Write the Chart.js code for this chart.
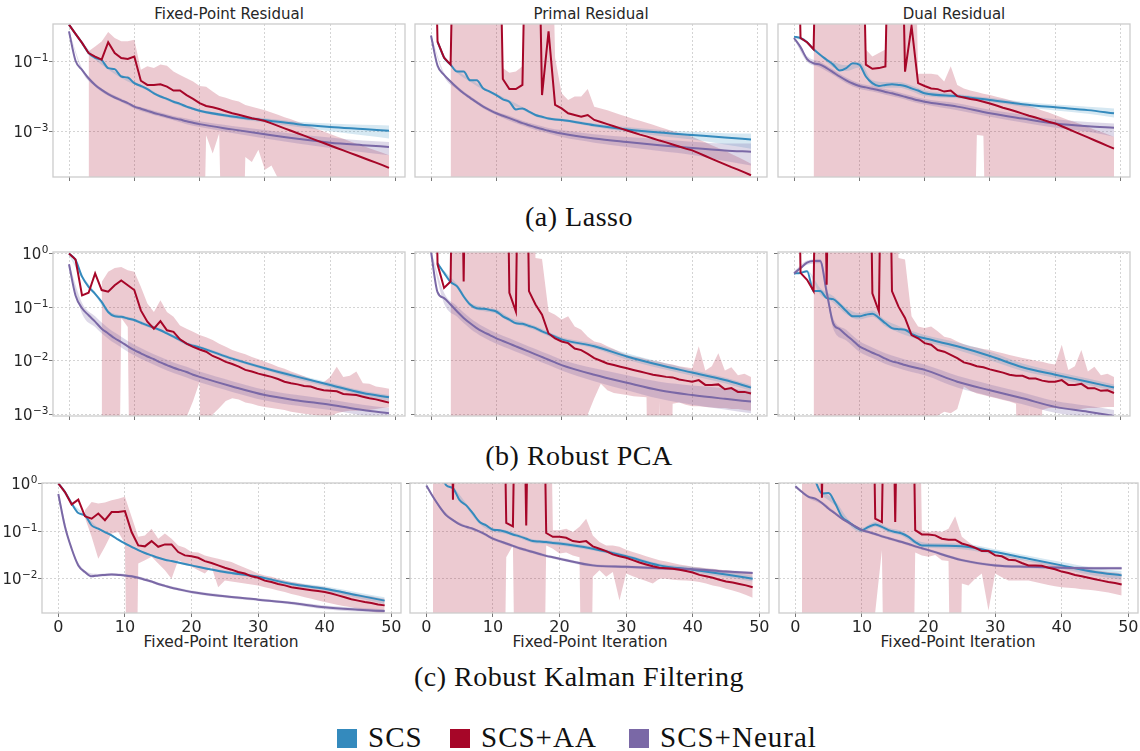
<!DOCTYPE html>
<html>
<head>
<meta charset="utf-8">
<script src="https://cdn.jsdelivr.net/npm/chart.js@4.4.1/dist/chart.umd.min.js"></script>
<style>
  html, body { margin: 0; padding: 0; background: #fff; overflow: hidden; }
  body { position: relative; width: 1140px; height: 751px; }
  .abs { position: absolute; white-space: nowrap; }
  .title { font: 15px 'DejaVu Sans', sans-serif; color: #262626; line-height: 18px; transform: translateX(-50%); }
  .xlabel { font: 15.5px 'DejaVu Sans', sans-serif; color: #262626; line-height: 18px; transform: translateX(-50%); }
  .caption { font: 28px 'Liberation Serif', serif; letter-spacing: 0.5px; line-height: 28px; color: #111; transform: translateX(-50%); }
  .legend { font: 29px 'Liberation Serif', serif; letter-spacing: 1px; line-height: 28px; color: #111; }
  .swatch { width: 20px; height: 19px; }
</style>
</head>
<body>
<div class="abs title" style="left:229px; top:5px">Fixed-Point Residual</div>
<div class="abs title" style="left:591px; top:5px">Primal Residual</div>
<div class="abs title" style="left:954px; top:5px">Dual Residual</div>

<div class="abs xlabel" style="left:221px; top:633px">Fixed-Point Iteration</div>
<div class="abs xlabel" style="left:590px; top:633px">Fixed-Point Iteration</div>
<div class="abs xlabel" style="left:958px; top:633px">Fixed-Point Iteration</div>

<div class="abs caption" style="left:579px; top:203px">(a) Lasso</div>
<div class="abs caption" style="left:579px; top:442px">(b) Robust PCA</div>
<div class="abs caption" style="left:579px; top:663px">(c) Robust Kalman Filtering</div>

<div class="abs swatch" style="left:337px; top:729px; background:#348ABD"></div>
<div class="abs legend" style="left:368px; top:723px">SCS</div>
<div class="abs swatch" style="left:450px; top:729px; background:#A60628"></div>
<div class="abs legend" style="left:481px; top:723px">SCS+AA</div>
<div class="abs swatch" style="left:629px; top:729px; background:#7A68A6"></div>
<div class="abs legend" style="left:660px; top:723px">SCS+Neural</div>

<script>
// all values are log10 of the residual
// UP = above the top of the axis (run blew up), DN = below the bottom (mean - std <= 0)
const UP = 8
const DN = -12

const ITERS = [0, 1, 2, 3, 4, 5, 6, 7, 8, 9, 10, 11, 12, 13, 14, 15, 16, 17, 18, 19,
  20, 21, 22, 23, 24, 25, 26, 27, 28, 29, 30, 31, 32, 33, 34, 35, 36, 37, 38, 39,
  40, 41, 42, 43, 44, 45, 46, 47, 48, 49]
const GRID = [0, 1, 2, 3, 4, 5, 6, 7, 8, 9, 10, 11, 12, 13, 14, 15, 16, 17, 18, 19, 20, 25, 30, 35, 40, 45, 49]
const BAND_GRID = [0, 2, 4, 6, 8, 10, 12, 14, 16, 18, 20, 25, 30, 35, 40, 45, 49]
const X_TICKS = [0, 10, 20, 30, 40, 50]

// ---- (a) Lasso, fixed-point residual
const lassoFixedAA = [0.04, -0.22, -0.48, -0.77, -0.87, -0.96, -0.46, -0.77, -0.91, -0.94,
  -0.87, -1.56, -1.68, -1.68, -1.66, -1.73, -1.84, -1.84, -1.97, -2.08,
  -2.2, -2.28, -2.32, -2.37, -2.43, -2.49, -2.53, -2.58, -2.63, -2.67,
  -2.71, -2.78, -2.85, -2.92, -2.99, -3.06, -3.13, -3.2, -3.27, -3.34,
  -3.41, -3.48, -3.55, -3.62, -3.69, -3.76, -3.83, -3.9, -3.97, -4.05]
const lassoFixedAAhi = [null, null, null, -0.72, -0.58, -0.44, -0.17, -0.34, -0.43, -0.43,
  -0.39, -1.25, -1.15, -1.2, -1.1, -1.13, -1.3, -1.4, -1.49, -1.58,
  -1.71, -1.73, -1.87, -2.0, -2.05, -2.11, -2.15, -2.25, -2.3, -2.35,
  -2.4, -2.47, -2.53, -2.6, -2.66, -2.73, -2.8, -2.87, -2.94, -3.01,
  -3.08, -3.15, -3.22, -3.29, -3.36, -3.42, -3.49, -3.55, -3.62, -3.69]
const lassoFixedAAlo = [null, null, null, DN, DN, DN, DN, DN, DN, DN,
  DN, DN, DN, DN, DN, DN, DN, DN, DN, DN,
  DN, -3.12, -3.64, -3.06, DN, DN, DN, -3.74, -3.88, -3.53,
  -4.1, -3.98, -4.35, DN, DN, DN, DN, DN, DN, DN,
  DN, DN, DN, DN, DN, DN, DN, DN, DN, DN]
const lassoFixedSCS = [0.04, -0.22, -0.48, -0.77, -0.91, -0.97, -1.2, -1.23, -1.44, -1.47, -1.63, -1.71, -1.8, -1.92,
  -2.01, -2.08, -2.16, -2.22, -2.3, -2.36, -2.42, -2.58, -2.69, -2.8, -2.88, -2.94, -2.99]
const lassoFixedSCSlo = [0.0, -0.52, -0.95, -1.24, -1.48, -1.67, -1.84, -2.05, -2.2, -2.34, -2.46, -2.63, -2.75, -2.88, -3.0, -3.12, -3.21]
const lassoFixedSCShi = [0.08, -0.44, -0.87, -1.16, -1.4, -1.59, -1.76, -1.97, -2.12, -2.26, -2.38, -2.53, -2.63, -2.73, -2.78, -2.82, -2.84]
const lassoFixedNeural = [-0.15, -0.99, -1.25, -1.49, -1.68, -1.82, -1.94, -2.04, -2.12, -2.2, -2.3, -2.36, -2.42, -2.48,
  -2.53, -2.58, -2.63, -2.67, -2.72, -2.76, -2.8, -2.95, -3.09, -3.22, -3.33, -3.4, -3.45]
const lassoFixedNeuralLo = [-0.17, -1.3, -1.73, -1.99, -2.17, -2.35, -2.48, -2.59, -2.69, -2.8, -2.88, -3.05, -3.21, -3.35, -3.48, -3.6, -3.69]
const lassoFixedNeuralHi = [-0.13, -1.2, -1.63, -1.89, -2.07, -2.25, -2.36, -2.47, -2.57, -2.64, -2.72, -2.85, -2.97, -3.09, -3.18, -3.27, -3.31]

// ---- (a) Lasso, primal residual
const lassoPrimalAA = [UP, -0.44, -0.9, -1.1, UP, UP, UP, UP, UP, UP,
  UP, -1.51, -1.8, -1.8, -1.68, UP, UP, -1.97, -0.15, -2.25,
  -2.35, -2.49, -2.54, -2.59, -2.54, -2.68, -2.74, -2.8, -2.86, -2.92,
  -2.98, -3.04, -3.1, -3.15, -3.21, -3.27, -3.32, -3.38, -3.44, -3.5,
  -3.55, -3.63, -3.71, -3.79, -3.87, -3.95, -4.03, -4.1, -4.18, -4.26]
const lassoPrimalAAhi = [null, null, null, UP, UP, UP, UP, UP, UP, UP,
  UP, -1.2, -1.33, -1.3, -1.15, UP, UP, UP, UP, -0.9,
  -1.92, -2.11, -2.01, -2.01, -1.8, -2.3, -2.35, -2.4, -2.47, -2.53,
  -2.59, -2.65, -2.7, -2.76, -2.82, -2.88, -2.94, -3.0, -3.05, -3.1,
  -3.16, -3.24, -3.32, -3.4, -3.48, -3.55, -3.65, -3.74, -3.83, -3.93]
const lassoPrimalAAlo = [null, null, null, DN, DN, DN, DN, DN, DN, DN,
  DN, DN, DN, DN, DN, DN, DN, DN, DN, DN,
  DN, DN, DN, DN, DN, DN, DN, DN, DN, DN,
  DN, DN, DN, DN, DN, DN, DN, DN, DN, DN,
  DN, DN, DN, DN, DN, DN, DN, DN, DN, DN]
const lassoPrimalSCS = [null, -0.44, -0.9, -1.1, -1.3, -1.3, -1.55, -1.55, -1.78, -1.87, -1.97, -2.09, -2.16, -2.38,
  -2.35, -2.44, -2.54, -2.59, -2.64, -2.67, -2.68, -2.83, -2.95, -3.04, -3.11, -3.18, -3.24]
const lassoPrimalSCSlo = [null, -0.94, -1.34, -1.59, -1.82, -2.01, -2.2, -2.39, -2.58, -2.68, -2.72, -2.88, -3.02, -3.14, -3.24, -3.38, -3.5]
const lassoPrimalSCShi = [null, -0.86, -1.26, -1.51, -1.74, -1.93, -2.12, -2.31, -2.5, -2.6, -2.64, -2.78, -2.88, -2.96, -3.02, -3.06, -3.07]
const lassoPrimalNeural = [-0.27, -1.13, -1.39, -1.58, -1.76, -1.92, -2.05, -2.18, -2.3, -2.4, -2.49, -2.56, -2.63, -2.7,
  -2.77, -2.83, -2.89, -2.94, -2.99, -3.03, -3.07, -3.21, -3.31, -3.4, -3.48, -3.55, -3.59]
const lassoPrimalNeuralLo = [-0.29, -1.44, -1.81, -2.1, -2.35, -2.54, -2.7, -2.84, -2.97, -3.07, -3.17, -3.33, -3.45, -3.57, -3.68, -3.85, -3.98]
const lassoPrimalNeuralHi = [-0.25, -1.34, -1.71, -2.0, -2.25, -2.44, -2.56, -2.7, -2.81, -2.91, -2.97, -3.09, -3.17, -3.23, -3.3, -3.35, -3.35]

// ---- (a) Lasso, dual residual
const lassoDualAA = [UP, -0.34, -0.46, -0.66, UP, UP, UP, UP, UP, UP,
  UP, -1.1, -1.22, -1.2, -1.15, UP, UP, -1.3, 0.0, -1.63,
  -1.71, -1.78, -1.8, -1.87, -1.84, -2.0, -2.04, -2.08, -2.11, -2.16,
  -2.21, -2.27, -2.33, -2.38, -2.44, -2.5, -2.56, -2.61, -2.67, -2.73,
  -2.78, -2.86, -2.94, -3.02, -3.1, -3.18, -3.26, -3.34, -3.42, -3.5]
const lassoDualAAhi = [null, null, null, UP, UP, UP, UP, UP, UP, UP,
  UP, -0.67, -0.87, -0.77, -0.67, UP, UP, UP, UP, -1.36,
  -1.36, -1.36, -1.39, -1.58, -1.15, -1.68, -1.78, -1.84, -1.88, -1.93,
  -1.97, -2.02, -2.06, -2.11, -2.16, -2.21, -2.28, -2.34, -2.41, -2.47,
  -2.54, -2.61, -2.68, -2.74, -2.81, -2.88, -2.95, -3.02, -3.09, -3.16]
const lassoDualAAlo = [null, null, null, DN, DN, DN, DN, DN, DN, DN,
  DN, DN, DN, DN, DN, DN, DN, DN, DN, DN,
  DN, DN, DN, DN, DN, DN, DN, DN, -3.11, -3.13,
  DN, DN, DN, DN, DN, DN, DN, DN, DN, DN,
  DN, DN, DN, DN, DN, DN, DN, DN, DN, DN]
const lassoDualSCS = [-0.3, -0.34, -0.46, -0.66, -0.82, -0.96, -1.1, -1.27, -1.2, -1.06, -1.1, -1.44, -1.63, -1.71,
  -1.68, -1.66, -1.68, -1.71, -1.78, -1.84, -1.92, -2.0, -2.11, -2.23, -2.32, -2.4, -2.49]
const lassoDualSCSlo = [-0.33, -0.49, -0.85, -1.18, -1.28, -1.18, -1.71, -1.76, -1.76, -1.86, -2.0, -2.06, -2.17, -2.3, -2.41, -2.5, -2.61]
const lassoDualSCShi = [-0.27, -0.43, -0.79, -1.02, -1.12, -1.02, -1.55, -1.6, -1.6, -1.7, -1.84, -1.94, -2.05, -2.16, -2.24, -2.3, -2.35]
const lassoDualNeural = [-0.34, -0.6, -0.94, -1.06, -1.1, -1.2, -1.32, -1.44, -1.55, -1.64, -1.71, -1.75, -1.79, -1.83,
  -1.88, -1.92, -1.97, -2.02, -2.07, -2.12, -2.16, -2.3, -2.49, -2.64, -2.78, -2.86, -2.9]
const lassoDualNeuralLo = [-0.36, -1.02, -1.18, -1.4, -1.63, -1.79, -1.87, -1.96, -2.05, -2.15, -2.24, -2.4, -2.59, -2.75, -2.9, -3.02, -3.16]
const lassoDualNeuralHi = [-0.32, -0.86, -1.02, -1.24, -1.47, -1.63, -1.71, -1.8, -1.89, -1.99, -2.08, -2.2, -2.39, -2.53, -2.66, -2.74, -2.78]

// ---- (b) Robust PCA, fixed-point residual
const rpcaFixedAA = [0, -0.11, -0.78, -0.73, -0.37, -0.68, -0.71, -0.59, -0.5, -0.59,
  -0.68, -1.06, -1.27, -1.4, -1.26, -1.43, -1.46, -1.6, -1.68, -1.74,
  -1.79, -1.83, -1.91, -1.96, -2.02, -2.06, -2.11, -2.17, -2.2, -2.24,
  -2.27, -2.3, -2.34, -2.39, -2.42, -2.44, -2.47, -2.48, -2.52, -2.55,
  -2.56, -2.57, -2.62, -2.63, -2.64, -2.67, -2.7, -2.72, -2.75, -2.78]
const rpcaFixedAAhi = [null, null, null, null, null, -0.53, -0.34, -0.27, -0.25, -0.31,
  -0.34, -0.62, -0.93, -1.09, -0.87, -1.09, -1.18, -1.34, -1.4, -1.46,
  -1.52, -1.56, -1.61, -1.68, -1.74, -1.8, -1.84, -1.88, -1.93, -1.97,
  -2.02, -2.06, -2.11, -2.15, -2.2, -2.24, -2.29, -2.34, -2.39, -2.4,
  -2.3, -2.11, -2.3, -2.28, -2.2, -2.42, -2.43, -2.48, -2.5, -2.52]
const rpcaFixedAAlo = [null, null, null, null, null, DN, DN, DN, -1.2, -1.37,
  DN, DN, DN, DN, DN, DN, DN, DN, -3.05, -2.75,
  -2.39, DN, -3.0, -2.88, -2.75, -2.7, -2.72, -2.78, -2.8, -2.84,
  -2.86, -2.88, -2.9, -2.92, -2.95, -2.97, -2.99, -3.0, -3.02, -3.03,
  -3.04, -2.98, -2.95, -2.93, -2.93, -2.92, -2.92, -2.9, -2.88, -2.87]
const rpcaFixedSCS = [0, -0.12, -0.43, -0.62, -0.75, -0.9, -1.09, -1.17, -1.18, -1.21, -1.24, -1.29, -1.34, -1.38,
  -1.43, -1.49, -1.55, -1.61, -1.68, -1.72, -1.75, -1.96, -2.14, -2.3, -2.45, -2.6, -2.68]
const rpcaFixedSCSlo = [-0.03, -0.46, -0.78, -1.12, -1.21, -1.27, -1.37, -1.46, -1.58, -1.71, -1.78, -1.99, -2.17, -2.35, -2.5, -2.65, -2.75]
const rpcaFixedSCShi = [0.03, -0.4, -0.72, -1.06, -1.15, -1.21, -1.31, -1.4, -1.52, -1.65, -1.72, -1.93, -2.11, -2.26, -2.41, -2.56, -2.64]
const rpcaFixedNeural = [-0.2, -0.78, -1.02, -1.15, -1.27, -1.4, -1.49, -1.58, -1.65, -1.73, -1.8, -1.86, -1.92, -1.97,
  -2.03, -2.08, -2.13, -2.17, -2.21, -2.26, -2.3, -2.48, -2.64, -2.74, -2.82, -2.92, -2.98]
const rpcaFixedNeuralLo = [-0.22, -1.12, -1.37, -1.59, -1.75, -1.9, -2.02, -2.13, -2.23, -2.31, -2.4, -2.58, -2.74, -2.84, -2.92, -3.02, -3.08]
const rpcaFixedNeuralHi = [-0.18, -0.92, -1.17, -1.39, -1.55, -1.7, -1.82, -1.93, -2.03, -2.11, -2.2, -2.38, -2.54, -2.64, -2.72, -2.82, -2.88]

// ---- (b) Robust PCA, primal residual
const rpcaPrimalAA = [UP, -0.2, -0.64, -0.52, UP, -0.52, UP, UP, UP, UP,
  UP, UP, -0.73, -1.08, UP, -0.7, -0.95, -1.14, -1.49, -1.58,
  -1.64, -1.67, -1.77, -1.8, -1.87, -1.95, -2.0, -2.05, -2.08, -2.11,
  -2.14, -2.17, -2.2, -2.23, -2.26, -2.28, -2.3, -2.31, -2.35, -2.37,
  -2.39, -2.36, -2.45, -2.45, -2.44, -2.53, -2.51, -2.58, -2.58, -2.61]
const rpcaPrimalAAhi = [null, null, null, UP, UP, UP, UP, UP, UP, UP,
  UP, UP, UP, UP, UP, UP, -0.08, -0.1, -1.08, -1.14,
  -1.23, -1.17, -1.36, -1.42, -1.55, -1.64, -1.67, -1.73, -1.78, -1.84,
  -1.89, -1.92, -1.94, -1.97, -2.0, -2.02, -2.05, -2.07, -2.1, -2.12,
  -2.14, -1.73, -2.18, -2.1, -1.86, -2.18, -2.12, -2.27, -2.24, -2.3]
const rpcaPrimalAAlo = [null, null, null, DN, DN, DN, DN, DN, DN, DN,
  DN, DN, DN, DN, DN, DN, DN, DN, DN, DN,
  DN, DN, DN, DN, -3.0, -2.7, -2.43, -2.55, -2.6, -2.62,
  -2.64, -2.66, -2.67, -2.68, DN, -2.75, DN, -2.8, -2.78, -2.82,
  -2.85, -2.85, -2.86, -2.87, -2.88, -2.88, -2.9, -2.9, -2.92, -2.93]
const rpcaPrimalSCS = [null, -0.18, -0.36, -0.53, -0.61, -0.8, -0.95, -1.02, -1.03, -1.05, -1.08, -1.17, -1.23, -1.3,
  -1.31, -1.35, -1.39, -1.45, -1.5, -1.55, -1.6, -1.73, -1.92, -2.08, -2.22, -2.36, -2.5]
const rpcaPrimalSCSlo = [null, -0.4, -0.65, -0.99, -1.07, -1.12, -1.27, -1.35, -1.43, -1.54, -1.64, -1.77, -1.98, -2.14, -2.28, -2.42, -2.56]
const rpcaPrimalSCShi = [null, -0.32, -0.57, -0.91, -0.99, -1.04, -1.19, -1.27, -1.35, -1.46, -1.56, -1.68, -1.86, -2.02, -2.17, -2.31, -2.45]
const rpcaPrimalNeural = [0.04, -0.72, -0.83, -0.95, -1.08, -1.2, -1.3, -1.39, -1.46, -1.52, -1.58, -1.63, -1.68, -1.73,
  -1.78, -1.83, -1.88, -1.93, -1.98, -2.03, -2.08, -2.26, -2.41, -2.55, -2.64, -2.71, -2.76]
const rpcaPrimalNeuralLo = [0.02, -0.93, -1.18, -1.4, -1.56, -1.68, -1.78, -1.88, -1.98, -2.08, -2.18, -2.38, -2.55, -2.71, -2.82, -2.91, -2.98]
const rpcaPrimalNeuralHi = [0.06, -0.73, -0.98, -1.2, -1.36, -1.48, -1.58, -1.68, -1.78, -1.88, -1.98, -2.14, -2.27, -2.39, -2.46, -2.51, -2.56]

// ---- (b) Robust PCA, dual residual
const rpcaDualAA = [UP, -0.36, -0.49, -0.7, UP, -0.58, UP, UP, UP, UP,
  UP, UP, -0.74, -1.08, UP, -0.7, -0.99, -1.2, -1.52, -1.58,
  -1.67, -1.7, -1.8, -1.83, -1.89, -1.95, -2.03, -2.06, -2.1, -2.12,
  -2.16, -2.19, -2.22, -2.26, -2.28, -2.28, -2.33, -2.33, -2.37, -2.39,
  -2.39, -2.36, -2.45, -2.45, -2.43, -2.51, -2.51, -2.56, -2.55, -2.6]
const rpcaDualAAhi = [null, null, null, UP, UP, UP, UP, UP, UP, UP,
  UP, UP, UP, UP, UP, UP, -0.08, -0.11, -1.17, -1.36,
  -1.39, -1.36, -1.45, -1.55, -1.58, -1.64, -1.69, -1.73, -1.75, -1.78,
  -1.8, -1.83, -1.86, -1.89, -1.92, -1.95, -1.97, -2.0, -2.02, -2.05,
  -2.07, -1.7, -2.17, -2.1, -1.8, -2.2, -2.11, -2.27, -2.24, -2.3]
const rpcaDualAAlo = [null, null, null, DN, DN, DN, DN, DN, DN, DN,
  DN, DN, DN, DN, DN, DN, DN, DN, DN, DN,
  DN, DN, -3.02, -2.95, -2.98, -2.9, -2.48, -2.56, -2.61, -2.64,
  -2.67, -2.7, -2.73, -2.76, -2.8, DN, -2.85, DN, -2.92, -2.88,
  -2.88, -2.9, -2.9, -2.9, -2.9, -2.88, -2.88, -2.87, -2.86, -2.86]
const rpcaDualSCS = [-0.37, -0.36, -0.33, -0.7, -0.7, -0.83, -0.85, -0.95, -1.07, -1.17, -1.17, -1.14, -1.12, -1.2,
  -1.3, -1.39, -1.41, -1.42, -1.5, -1.55, -1.58, -1.73, -1.91, -2.12, -2.26, -2.39, -2.5]
const rpcaDualSCSlo = [-0.39, -0.35, -0.76, -0.91, -1.13, -1.23, -1.18, -1.36, -1.47, -1.56, -1.64, -1.8, -1.99, -2.19, -2.32, -2.45, -2.56]
const rpcaDualSCShi = [-0.35, -0.31, -0.64, -0.79, -1.01, -1.11, -1.06, -1.24, -1.35, -1.44, -1.52, -1.66, -1.83, -2.05, -2.2, -2.33, -2.44]
const rpcaDualNeural = [-0.37, -0.27, -0.17, -0.14, -0.14, -0.72, -1.3, -1.41, -1.52, -1.62, -1.73, -1.79, -1.85, -1.9,
  -1.96, -2.01, -2.04, -2.08, -2.11, -2.14, -2.17, -2.39, -2.55, -2.7, -2.86, -2.95, -3.03]
const rpcaDualNeuralLo = [-0.41, -0.21, -0.18, -1.4, -1.62, -1.83, -1.95, -2.06, -2.14, -2.21, -2.27, -2.5, -2.66, -2.81, -2.97, -3.06, -3.16]
const rpcaDualNeuralHi = [-0.33, -0.13, -0.1, -1.2, -1.42, -1.63, -1.75, -1.86, -1.94, -2.01, -2.07, -2.28, -2.44, -2.59, -2.75, -2.84, -2.92]

// ---- (c) Robust Kalman filtering, fixed-point residual
const kalmanFixedAA = [0, -0.18, -0.44, -0.34, -0.69, -0.74, -0.63, -0.77, -0.6, -0.6,
  -0.58, -1.02, -1.3, -1.32, -1.21, -1.33, -1.28, -1.28, -1.44, -1.51,
  -1.53, -1.56, -1.63, -1.67, -1.72, -1.77, -1.81, -1.86, -1.89, -1.95,
  -1.98, -2.04, -2.07, -2.11, -2.14, -2.18, -2.2, -2.22, -2.24, -2.26,
  -2.28, -2.31, -2.35, -2.39, -2.43, -2.46, -2.49, -2.51, -2.54, -2.56]
const kalmanFixedAAhi = [null, null, null, null, -0.56, -0.39, -0.42, -0.4, -0.35, -0.32,
  -0.28, -0.7, -1.12, -1.09, -0.95, -1.16, -1.05, -1.16, -1.3, -1.35,
  -1.44, -1.45, -1.51, -1.55, -1.58, -1.62, -1.65, -1.71, -1.77, -1.83,
  -1.89, -1.93, -1.96, -2.0, -2.04, -2.07, -2.09, -2.12, -2.14, -2.16,
  -2.18, -2.21, -2.24, -2.27, -2.3, -2.32, -2.35, -2.37, -2.4, -2.42]
const kalmanFixedAAlo = [null, null, null, null, -0.72, -1.12, -1.58, -1.33, -1.05, -1.02,
  -1.26, DN, -1.68, -1.61, -1.54, -1.68, -1.82, -2.0, -1.61, -1.68,
  -1.75, -1.82, -1.89, -1.75, -2.18, -2.04, -2.06, -2.08, -2.1, -2.12,
  -2.14, -2.18, -2.21, -2.25, -2.28, -2.32, -2.35, -2.39, -2.42, -2.46,
  -2.49, -2.52, -2.55, -2.58, -2.6, -2.63, -2.66, -2.69, -2.72, -2.74]
const kalmanFixedSCS = [0, -0.18, -0.42, -0.62, -0.67, -0.88, -0.95, -1.02, -1.09, -1.18, -1.26, -1.33, -1.4, -1.46,
  -1.51, -1.56, -1.6, -1.63, -1.66, -1.69, -1.72, -1.86, -1.96, -2.11, -2.21, -2.35, -2.46]
const kalmanFixedSCSlo = [-0.02, -0.44, -0.69, -0.97, -1.11, -1.28, -1.42, -1.53, -1.62, -1.68, -1.74, -1.89, -1.99, -2.15, -2.26, -2.41, -2.53]
const kalmanFixedSCShi = [0.02, -0.4, -0.65, -0.93, -1.07, -1.24, -1.38, -1.49, -1.58, -1.64, -1.7, -1.83, -1.93, -2.07, -2.16, -2.29, -2.39]
const kalmanFixedNeural = [-0.22, -0.91, -1.37, -1.72, -1.86, -1.95, -1.93, -1.92, -1.91, -1.92, -1.93, -1.95, -1.98, -2.02,
  -2.06, -2.11, -2.15, -2.19, -2.22, -2.25, -2.28, -2.37, -2.44, -2.51, -2.6, -2.65, -2.68]
const kalmanFixedNeuralLo = [-0.25, -1.4, -1.89, -1.96, -1.94, -1.96, -2.01, -2.09, -2.18, -2.25, -2.31, -2.4, -2.47, -2.54, -2.64, -2.69, -2.72]
const kalmanFixedNeuralHi = [-0.19, -1.34, -1.83, -1.9, -1.88, -1.9, -1.95, -2.03, -2.12, -2.19, -2.25, -2.34, -2.41, -2.48, -2.56, -2.61, -2.64]

// ---- (c) Robust Kalman filtering, primal residual
const kalmanPrimalAA = [UP, UP, UP, UP, -0.34, UP, UP, UP, UP, UP,
  UP, UP, -0.83, -0.9, UP, -0.88, UP, UP, -1.04, -1.12,
  -1.12, -1.14, -1.21, -1.23, -1.21, -1.32, -1.37, -1.42, -1.49, -1.53,
  -1.56, -1.61, -1.66, -1.7, -1.74, -1.77, -1.78, -1.79, -1.81, -1.84,
  -1.87, -1.92, -1.95, -1.98, -2.02, -2.06, -2.08, -2.11, -2.14, -2.18]
const kalmanPrimalAAhi = [null, UP, UP, UP, UP, UP, UP, UP, UP, UP,
  UP, UP, UP, UP, UP, UP, UP, UP, UP, -0.98,
  -0.98, -0.95, -1.02, -0.91, -0.74, -1.09, -1.23, -1.3, -1.3, -1.33,
  -1.39, -1.44, -1.48, -1.53, -1.57, -1.61, -1.64, -1.67, -1.7, -1.72,
  -1.75, -1.76, -1.78, -1.79, -1.81, -1.82, -1.84, -1.86, -1.87, -1.89]
const kalmanPrimalAAlo = [null, DN, DN, DN, DN, DN, DN, DN, DN, DN,
  DN, DN, -1.55, -1.3, DN, DN, DN, DN, -1.3, -1.37,
  -1.47, -1.45, -1.51, -1.55, DN, -1.96, -1.82, -1.96, -1.86, -2.46,
  -1.89, -1.95, -2.0, -2.05, -2.1, -2.0, -2.0, -2.02, -2.03, -2.04,
  -2.05, -2.07, -2.1, -2.14, -2.17, -2.21, -2.25, -2.29, -2.34, -2.4]
const kalmanPrimalSCS = [null, null, 0.3, -0.04, -0.1, -0.35, -0.46, -0.63, -0.81, -0.88, -0.97, -0.98, -1.02, -1.07,
  -1.11, -1.16, -1.21, -1.22, -1.23, -1.25, -1.26, -1.37, -1.53, -1.72, -1.81, -1.91, -2.0]
const kalmanPrimalSCSlo = [null, null, -0.14, -0.5, -0.85, -1.01, -1.06, -1.15, -1.25, -1.27, -1.3, -1.41, -1.57, -1.76, -1.87, -1.97, -2.06]
const kalmanPrimalSCShi = [null, null, -0.06, -0.42, -0.77, -0.93, -0.98, -1.07, -1.17, -1.19, -1.22, -1.33, -1.49, -1.68, -1.75, -1.85, -1.94]
const kalmanPrimalNeural = [-0.04, -0.28, -0.49, -0.67, -0.77, -0.86, -0.91, -0.95, -1.01, -1.08, -1.16, -1.21, -1.26, -1.31,
  -1.36, -1.4, -1.44, -1.48, -1.52, -1.55, -1.58, -1.72, -1.75, -1.78, -1.8, -1.85, -1.88]
const kalmanPrimalNeuralLo = [-0.07, -0.52, -0.8, -0.94, -1.04, -1.19, -1.29, -1.39, -1.47, -1.55, -1.61, -1.75, -1.78, -1.81, -1.83, -1.88, -1.91]
const kalmanPrimalNeuralHi = [-0.01, -0.46, -0.74, -0.88, -0.98, -1.13, -1.23, -1.33, -1.41, -1.49, -1.55, -1.69, -1.72, -1.75, -1.77, -1.82, -1.85]

// ---- (c) Robust Kalman filtering, dual residual
const kalmanDualAA = [UP, UP, UP, UP, -0.3, UP, UP, UP, UP, UP,
  UP, UP, -0.74, -0.81, UP, -0.81, UP, UP, -0.98, -1.07,
  -1.07, -1.09, -1.16, -1.18, -1.18, -1.26, -1.3, -1.35, -1.42, -1.42,
  -1.51, -1.53, -1.6, -1.61, -1.67, -1.72, -1.72, -1.73, -1.77, -1.8,
  -1.85, -1.88, -1.92, -1.95, -1.98, -2.01, -2.04, -2.07, -2.09, -2.12]
const kalmanDualAAhi = [null, UP, UP, UP, UP, UP, UP, UP, UP, UP,
  UP, UP, UP, UP, UP, UP, UP, UP, UP, -0.98,
  -1.02, -1.0, -1.02, -0.95, -0.69, -1.12, -1.23, -1.33, -1.35, -1.4,
  -1.47, -1.5, -1.52, -1.55, -1.58, -1.61, -1.63, -1.65, -1.68, -1.7,
  -1.72, -1.74, -1.76, -1.78, -1.8, -1.82, -1.84, -1.86, -1.87, -1.89]
const kalmanDualAAlo = [null, DN, DN, DN, DN, DN, DN, DN, DN, DN,
  DN, DN, -2.7, -1.4, DN, DN, DN, DN, -1.45, -1.51,
  -1.54, -1.5, -1.61, -1.63, DN, -2.1, -2.14, -2.0, -1.89, -2.67,
  -1.89, -1.97, -2.04, -2.04, -2.04, -2.04, -2.07, -2.1, -2.13, -2.16,
  -2.18, -2.19, -2.2, -2.22, -2.23, -2.25, -2.27, -2.29, -2.32, -2.35]
const kalmanDualSCS = [null, null, null, 0.05, -0.21, -0.2, -0.42, -0.7, -0.81, -0.91, -0.98, -0.91, -0.86, -0.91,
  -0.98, -1.02, -1.05, -1.12, -1.23, -1.3, -1.3, -1.32, -1.44, -1.58, -1.72, -1.86, -1.93]
const kalmanDualSCSlo = [null, null, -0.26, -0.47, -0.86, -1.03, -0.91, -1.03, -1.1, -1.28, -1.35, -1.38, -1.5, -1.64, -1.79, -1.94, -2.02]
const kalmanDualSCShi = [null, null, -0.16, -0.37, -0.76, -0.93, -0.81, -0.93, -1.0, -1.18, -1.25, -1.26, -1.38, -1.52, -1.65, -1.78, -1.84]
const kalmanDualNeural = [-0.06, -0.18, -0.28, -0.32, -0.41, -0.53, -0.63, -0.74, -0.82, -0.9, -0.98, -1.02, -1.06, -1.11,
  -1.15, -1.19, -1.23, -1.27, -1.32, -1.36, -1.4, -1.61, -1.72, -1.75, -1.77, -1.78, -1.78]
const kalmanDualNeuralLo = [-0.09, -0.31, -0.44, -0.66, -0.85, -1.01, -1.09, -1.18, -1.26, -1.35, -1.43, -1.64, -1.75, -1.78, -1.8, -1.81, -1.81]
const kalmanDualNeuralHi = [-0.03, -0.25, -0.38, -0.6, -0.79, -0.95, -1.03, -1.12, -1.2, -1.29, -1.37, -1.58, -1.69, -1.72, -1.74, -1.75, -1.75]

// ---- layout (pixels of each plot frame) and y range per row
const ROWS = {
  lasso:  { top: 24,  bottom: 177, min: -4.31, max: 0.06, ticks: [-1, -3],        cols: [[53, 405], [415, 767], [778, 1130]] },
  rpca:   { top: 252, bottom: 416, min: -3.03, max: 0.03, ticks: [0, -1, -2, -3], cols: [[53, 405], [415, 767], [778, 1130]] },
  kalman: { top: 483, bottom: 613, min: -2.72, max: 0.01, ticks: [0, -1, -2],     cols: [[42, 401], [410, 769], [779, 1138]] }
}

const panels = [
  { row: 'lasso', col: 0, aa: [lassoFixedAA, lassoFixedAAlo, lassoFixedAAhi], scs: [lassoFixedSCS, lassoFixedSCSlo, lassoFixedSCShi], neural: [lassoFixedNeural, lassoFixedNeuralLo, lassoFixedNeuralHi] },
  { row: 'lasso', col: 1, aa: [lassoPrimalAA, lassoPrimalAAlo, lassoPrimalAAhi], scs: [lassoPrimalSCS, lassoPrimalSCSlo, lassoPrimalSCShi], neural: [lassoPrimalNeural, lassoPrimalNeuralLo, lassoPrimalNeuralHi] },
  { row: 'lasso', col: 2, aa: [lassoDualAA, lassoDualAAlo, lassoDualAAhi], scs: [lassoDualSCS, lassoDualSCSlo, lassoDualSCShi], neural: [lassoDualNeural, lassoDualNeuralLo, lassoDualNeuralHi] },
  { row: 'rpca', col: 0, aa: [rpcaFixedAA, rpcaFixedAAlo, rpcaFixedAAhi], scs: [rpcaFixedSCS, rpcaFixedSCSlo, rpcaFixedSCShi], neural: [rpcaFixedNeural, rpcaFixedNeuralLo, rpcaFixedNeuralHi] },
  { row: 'rpca', col: 1, aa: [rpcaPrimalAA, rpcaPrimalAAlo, rpcaPrimalAAhi], scs: [rpcaPrimalSCS, rpcaPrimalSCSlo, rpcaPrimalSCShi], neural: [rpcaPrimalNeural, rpcaPrimalNeuralLo, rpcaPrimalNeuralHi] },
  { row: 'rpca', col: 2, aa: [rpcaDualAA, rpcaDualAAlo, rpcaDualAAhi], scs: [rpcaDualSCS, rpcaDualSCSlo, rpcaDualSCShi], neural: [rpcaDualNeural, rpcaDualNeuralLo, rpcaDualNeuralHi] },
  { row: 'kalman', col: 0, aa: [kalmanFixedAA, kalmanFixedAAlo, kalmanFixedAAhi], scs: [kalmanFixedSCS, kalmanFixedSCSlo, kalmanFixedSCShi], neural: [kalmanFixedNeural, kalmanFixedNeuralLo, kalmanFixedNeuralHi] },
  { row: 'kalman', col: 1, aa: [kalmanPrimalAA, kalmanPrimalAAlo, kalmanPrimalAAhi], scs: [kalmanPrimalSCS, kalmanPrimalSCSlo, kalmanPrimalSCShi], neural: [kalmanPrimalNeural, kalmanPrimalNeuralLo, kalmanPrimalNeuralHi] },
  { row: 'kalman', col: 2, aa: [kalmanDualAA, kalmanDualAAlo, kalmanDualAAhi], scs: [kalmanDualSCS, kalmanDualSCSlo, kalmanDualSCShi], neural: [kalmanDualNeural, kalmanDualNeuralLo, kalmanDualNeuralHi] }
]

const BLUE = '#348ABD', RED = '#A60628', PURPLE = '#7A68A6'
const BLUE_FILL = 'rgba(52, 138, 189, 0.2)', RED_FILL = 'rgba(166, 6, 40, 0.21)', PURPLE_FILL = 'rgba(122, 104, 166, 0.26)'
const GRID_COLOR = '#d4d4d4', TICK_COLOR = '#777', TEXT = '#262626'
const Y_AXIS_W = 52, PAD_T = 12, PAD_R = 12

Chart.defaults.font.family = "'DejaVu Sans', sans-serif"
Chart.defaults.animation = false

function toPoints(xs, logs) {
  if (xs.length !== logs.length) throw new Error('length mismatch ' + xs.length + ' vs ' + logs.length)
  return xs.map((x, i) => ({ x: x, y: logs[i] === null ? null : Math.pow(10, logs[i]) }))
}

// box round each plot
const frame = {
  id: 'frame',
  afterDatasetsDraw(chart) {
    const { ctx, chartArea: a } = chart
    ctx.save()
    ctx.strokeStyle = '#cccccc'
    ctx.lineWidth = 1.3
    ctx.strokeRect(a.left, a.top, a.right - a.left, a.bottom - a.top)
    ctx.restore()
  }
}

// "10" with a raised exponent, like matplotlib's mathtext tick labels
const powerLabels = {
  id: 'powerLabels',
  afterDraw(chart, args, opts) {
    if (!opts.show) return
    const { ctx, chartArea, scales } = chart
    const y = scales.y
    ctx.save()
    ctx.fillStyle = TEXT
    ctx.textAlign = 'left'
    ctx.textBaseline = 'alphabetic'
    y.ticks.forEach(t => {
      const py = y.getPixelForValue(t.value)
      const exp = String(Math.round(Math.log10(t.value))).replace('-', '\u2212')
      ctx.font = "15px 'DejaVu Sans'"
      const wBase = ctx.measureText('10').width
      ctx.font = "10.5px 'DejaVu Sans'"
      const wExp = ctx.measureText(exp).width
      const x0 = chartArea.left - 5 - wBase - wExp
      ctx.font = "15px 'DejaVu Sans'"
      ctx.fillText('10', x0, py + 5.5)
      ctx.font = "10.5px 'DejaVu Sans'"
      ctx.fillText(exp, x0 + wBase + 0.5, py - 0.5)
    })
    ctx.restore()
  }
}

function lineSet(points, color, smooth) {
  return {
    data: points, borderColor: color, borderWidth: 2, pointRadius: 0, fill: false,
    tension: 0, cubicInterpolationMode: smooth ? 'monotone' : 'default'
  }
}

function bandSet(points, color, smooth, upper) {
  return {
    data: points, borderColor: 'transparent', borderWidth: 0, pointRadius: 0,
    backgroundColor: color, fill: upper ? '+1' : false,
    tension: 0, cubicInterpolationMode: smooth ? 'monotone' : 'default'
  }
}

panels.forEach(p => {
  const row = ROWS[p.row]
  const [left, right] = row.cols[p.col]
  const showX = p.row === 'kalman'
  const xh = showX ? 50 : 14
  const w = right - left + Y_AXIS_W + PAD_R
  const h = row.bottom - row.top + PAD_T + xh

  const canvas = document.createElement('canvas')
  canvas.width = w
  canvas.height = h
  canvas.style.position = 'absolute'
  canvas.style.left = (left - Y_AXIS_W) + 'px'
  canvas.style.top = (row.top - PAD_T) + 'px'
  canvas.style.width = w + 'px'
  canvas.style.height = h + 'px'
  document.body.appendChild(canvas)

  const datasets = [
    lineSet(toPoints(ITERS, p.aa[0]), RED, false),
    lineSet(toPoints(GRID, p.neural[0]), PURPLE, true),
    lineSet(toPoints(GRID, p.scs[0]), BLUE, true),
    bandSet(toPoints(BAND_GRID, p.neural[2]), PURPLE_FILL, true, true),
    bandSet(toPoints(BAND_GRID, p.neural[1]), PURPLE_FILL, true, false),
    bandSet(toPoints(BAND_GRID, p.scs[2]), BLUE_FILL, true, true),
    bandSet(toPoints(BAND_GRID, p.scs[1]), BLUE_FILL, true, false),
    bandSet(toPoints(ITERS, p.aa[2]), RED_FILL, false, true),
    bandSet(toPoints(ITERS, p.aa[1]), RED_FILL, false, false)
  ]

  new Chart(canvas, {
    type: 'line',
    data: { datasets: datasets },
    options: {
      responsive: false,
      devicePixelRatio: 1,
      events: [],
      layout: { padding: { top: PAD_T, right: PAD_R, left: 0, bottom: 0 } },
      plugins: {
        legend: { display: false },
        tooltip: { enabled: false },
        filler: { drawTime: 'beforeDatasetsDraw' },
        powerLabels: { show: p.col === 0 }
      },
      scales: {
        x: {
          type: 'linear', min: -2.45, max: 51.45,
          afterBuildTicks: s => { s.ticks = X_TICKS.map(v => ({ value: v })) },
          afterFit: s => { s.height = xh },
          grid: { color: GRID_COLOR, tickColor: TICK_COLOR, tickLength: 4, lineWidth: 1 },
          border: { display: false, dash: [2, 2] },
          ticks: { display: showX, color: TEXT, font: { size: 16 }, padding: 1, maxRotation: 0, autoSkip: false }
        },
        y: {
          type: 'logarithmic', min: Math.pow(10, row.min), max: Math.pow(10, row.max),
          afterBuildTicks: s => { s.ticks = row.ticks.map(e => ({ value: Math.pow(10, e) })) },
          afterFit: s => { s.width = Y_AXIS_W },
          grid: { color: GRID_COLOR, tickColor: TICK_COLOR, tickLength: 4, lineWidth: 1 },
          border: { display: false, dash: [2, 2] },
          ticks: { display: false }
        }
      }
    },
    plugins: [frame, powerLabels]
  })
})
</script>
</body>
</html>
